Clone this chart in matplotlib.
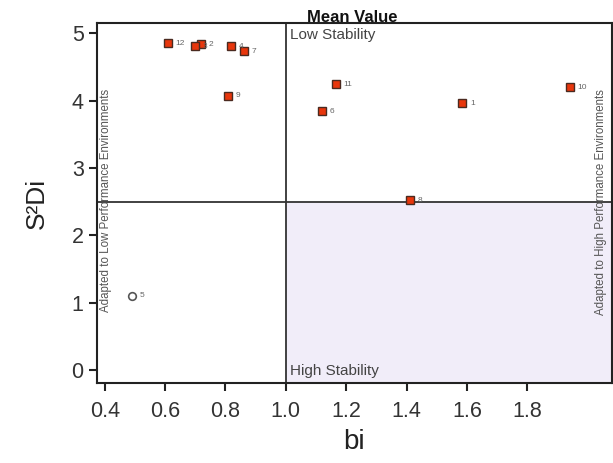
import matplotlib.pyplot as plt
from matplotlib.patches import Rectangle

plt.rcParams['font.family'] = ['Liberation Sans', 'DejaVu Sans']

# genotype stability data: regression coefficient (bi) and deviation (S2Di)
genotypes = ["1", "2", "3", "4", "5", "6", "7", "8", "9", "10", "11", "12"]
bi = [1.585, 0.72, 0.70, 0.82, 0.49, 1.12, 0.86, 1.41, 0.81, 1.94, 1.165, 0.61]
s2di = [3.96, 4.84, 4.81, 4.81, 1.10, 3.84, 4.73, 2.52, 4.07, 4.20, 4.24, 4.85]
open_marker = ["5"]

x_ticks = [0.4, 0.6, 0.8, 1.0, 1.2, 1.4, 1.6, 1.8]
y_ticks = [0, 1, 2, 3, 4, 5]
mean_bi = 1.0
mean_s2di = 2.5

fig = plt.figure(figsize=(6.13, 4.63), dpi=100)
ax = fig.add_axes([0.158, 0.173, 0.84, 0.777])
xmin, xmax = 0.374, 2.08
ymin, ymax = -0.19, 5.15
ax.set_xlim(xmin, xmax)
ax.set_ylim(ymin, ymax)

# shaded quadrant
ax.add_patch(Rectangle((mean_bi, ymin), xmax - mean_bi, mean_s2di - ymin,
                       facecolor="#f1edf9", edgecolor="none", zorder=0))
ax.axvline(mean_bi, color="#333333", lw=1.3, zorder=1)
ax.axhline(mean_s2di, color="#333333", lw=1.3, zorder=1)

for g, x, y in zip(genotypes, bi, s2di):
    if g in open_marker:
        ax.plot(x, y, "o", ms=5.5, mfc="white", mec="#555555", mew=1.2, zorder=3)
    else:
        ax.plot(x, y, "s", ms=5.5, mfc="#e8360c", mec="#4a2a20", mew=1.0, zorder=3)
    ax.annotate(g, (x, y), xytext=(5.5, 0), textcoords="offset points",
                fontsize=6, color="#666666", va="center", zorder=4)

ax.text(mean_bi + 0.015, 5.08, "Low Stability", fontsize=11, color="#444444",
        va="top", ha="left")
ax.text(mean_bi + 0.015, -0.12, "High Stability", fontsize=11, color="#444444",
        va="bottom", ha="left")
ax.text(0.405, 2.52, "Adapted to Low Performance Environments", rotation=90,
        fontsize=8.3, color="#555555", va="center", ha="center")
ax.text(2.045, 2.5, "Adapted to High Performance Environments", rotation=90,
        fontsize=8.3, color="#555555", va="center", ha="center")

fig.text(0.575, 0.962, "Mean Value", fontsize=12, fontweight="bold",
         ha="center", va="center", color="#111111")

ax.set_xticks(x_ticks)
ax.set_xticklabels([f"{t:.1f}" for t in x_ticks])
ax.set_yticks(y_ticks)
ax.tick_params(axis="both", direction="out", length=6, width=1.5,
               labelsize=15.5, labelcolor="#333333", color="#222222")
ax.tick_params(axis="x", pad=7)
for s in ax.spines.values():
    s.set_linewidth(1.5)
    s.set_color("#222222")

ax.set_xlabel("bi", fontsize=20, color="#222222", labelpad=5)
ax.set_ylabel("S²Di", fontsize=19, color="#222222", labelpad=16)

fig.savefig("out.png", dpi=100)
